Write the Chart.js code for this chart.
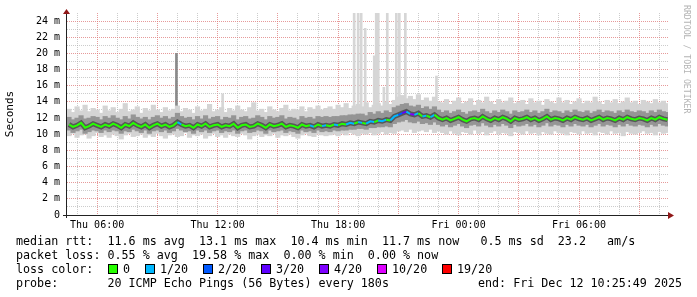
<!DOCTYPE html>
<html>
<head>
<meta charset="utf-8">
<script src="https://cdn.jsdelivr.net/npm/chart.js@4.4.1/dist/chart.umd.min.js"></script>
<style>
  html, body { margin: 0; padding: 0; background: #fff; }
  #wrap { position: relative; width: 697px; height: 297px; overflow: hidden; }
  #grafica { position: absolute; left: 0; top: 0; }
  .leyenda { position: absolute; font-family: 'DejaVu Sans Mono', monospace; font-size: 11.7px; line-height: 14px; white-space: pre; color: #000; }
  .caja { position: absolute; width: 8px; height: 8px; border: 1px solid #000; }
  #marca { position: absolute; left: 682px; top: 5px; writing-mode: vertical-rl; font-family: 'DejaVu Sans Mono', monospace; font-size: 8.2px; color: #b4b4b4; }
</style>
</head>
<body>
<div id="wrap">
  <canvas id="grafica" width="697" height="297"></canvas>
  <div id="marca">RRDTOOL / TOBI OETIKER</div>
  <div class="leyenda" style="left:16px;top:234px">median rtt:  11.6 ms avg  13.1 ms max  10.4 ms min  11.7 ms now   0.5 ms sd  23.2   am/s</div>
  <div class="leyenda" style="left:16px;top:248px">packet loss: 0.55 % avg  19.58 % max  0.00 % min  0.00 % now</div>
  <div class="leyenda" id="colores" style="left:16px;top:262px">loss color:</div>
  <div class="leyenda" style="left:16px;top:276px">probe:       20 ICMP Echo Pings (56 Bytes) every 180s</div>
  <div class="leyenda" style="left:478px;top:276px">end: Fri Dec 12 10:25:49 2025</div>
</div>
<script>
// horas desde el jueves 00:00, un paso cada 12 minutos
var inicio = 4.6;
var paso = 0.2;

// mediana del rtt en ms
var mediana = [
  11.2, 10.9, 11.1, 11.4, 10.8, 11.0, 11.3, 11.1, 10.9, 11.2,
  11.0, 11.3, 11.1, 10.8, 11.2, 11.0, 11.4, 11.1, 10.9, 11.2,
  10.8, 11.1, 11.3, 11.0, 11.2, 10.9, 11.1, 11.5, 11.2, 11.0,
  11.1, 10.8, 11.2, 11.0, 11.3, 10.9, 11.1, 11.2, 10.9, 11.1,
  11.0, 11.3, 10.8, 11.1, 11.2, 10.9, 11.0, 11.3, 11.1, 10.8,
  11.2, 11.0, 11.1, 11.3, 10.9, 11.1, 11.0, 10.8, 11.2, 11.0,
  11.1, 10.9, 11.2, 11.0, 11.1,
  11.0, 11.2, 11.1, 11.3, 11.2, 11.4, 11.3, 11.5, 11.4, 11.3,
  11.6, 11.5, 11.7, 11.6, 11.8, 11.7, 12.2, 12.4,
  12.6, 12.8, 12.5, 12.4, 12.6, 12.2, 12.3, 12.1, 12.4, 12.0,
  11.8, 12.0, 11.7, 11.9, 12.1, 11.8, 11.6, 11.9, 12.0, 11.8,
  12.2, 11.9, 11.7, 12.0, 11.8, 12.1, 11.9, 11.6, 12.0, 11.8,
  11.9, 12.1, 11.8, 12.0, 11.7, 11.9, 12.2, 11.8, 12.0, 11.9,
  11.7, 12.0, 11.8, 12.1, 11.9, 11.8, 12.0, 11.7, 11.9, 12.1,
  11.8, 12.0, 11.9, 11.7, 12.0, 11.8, 12.1, 11.9, 11.8, 12.0,
  11.9, 11.7, 12.0, 11.8, 12.1, 11.9, 11.8
];

// pings perdidos de 20
var perdida = [
  0, 0, 0, 0, 0, 0, 0, 0, 0, 0,
  0, 0, 0, 0, 0, 0, 0, 0, 0, 0,
  0, 0, 0, 0, 0, 0, 0, 1, 0, 0,
  0, 0, 0, 0, 0, 0, 0, 0, 0, 0,
  0, 0, 0, 0, 0, 0, 0, 0, 0, 0,
  0, 0, 0, 0, 0, 0, 0, 0, 0, 0,
  1, 0, 0, 1, 0, 0, 1, 0, 0, 1,
  1, 0, 1, 0, 1, 1, 0, 1, 1, 0,
  1, 1, 2, 3, 1, 4, 1, 0, 1, 0,
  1, 0, 0, 0, 0, 0, 0, 0, 0, 0,
  0, 0, 0, 0, 0, 0, 0, 0, 0, 0,
  0, 0, 0, 0, 0, 0, 0, 0, 0, 0,
  0, 0, 0, 0, 0, 0, 0, 0, 0, 0,
  0, 0, 0, 0, 0, 0, 0, 0, 0, 0,
  0, 0, 0, 0, 0, 0, 0, 0, 0, 0
];

// humo: extremos y banda central de los 20 pings
var humoMax = [
  13.1, 12.7, 13.4, 12.9, 13.6, 12.8, 13.2, 13.0, 12.6, 13.5,
  12.9, 13.3, 12.7, 13.1, 13.8, 12.8, 13.0, 13.4, 12.6, 13.2,
  12.9, 13.6, 13.0, 12.7, 13.3, 12.9, 13.1, 13.5, 12.8, 13.2,
  13.0, 12.6, 13.4, 12.9, 13.1, 13.7, 12.8, 13.0, 13.3, 12.7,
  13.2, 12.9, 13.5, 13.0, 12.8, 13.3, 13.9, 12.9, 13.1, 12.7,
  13.4, 13.0, 12.8, 13.2, 13.6, 12.9, 13.1, 13.0, 13.4, 12.8,
  13.3, 13.1, 13.5, 13.0, 13.2,
  13.4, 13.1, 13.6, 13.3, 13.8, 13.2, 13.5, 13.7, 13.4, 13.9,
  13.3, 13.6, 13.8, 13.5, 14.0, 13.7, 14.2, 14.6,
  14.8, 14.4, 14.7, 14.3, 14.9, 14.2, 14.5, 14.1, 14.6, 14.0,
  13.9, 14.3, 13.7, 14.1, 14.5, 13.8, 14.0, 14.4, 13.6, 14.2,
  13.9, 14.6, 14.0, 13.7, 14.3, 13.9, 14.1, 14.5, 13.8, 14.0,
  14.2, 13.7, 14.4, 13.9, 14.1, 13.6, 14.3, 14.0, 13.8, 14.5,
  13.9, 14.2, 13.7, 14.0, 14.4, 13.8, 14.1, 13.9, 14.6, 14.0,
  13.7, 14.2, 13.9, 14.3, 13.8, 14.0, 14.5, 13.9, 14.1, 13.7,
  14.2, 14.0, 13.8, 14.3, 13.9, 14.1, 13.8
];
var humoAlto = [
  12.1, 11.8, 12.0, 12.3, 11.9, 12.0, 12.2, 12.1, 11.8, 12.2,
  12.0, 12.3, 12.0, 11.8, 12.2, 11.9, 12.4, 12.1, 11.9, 12.1,
  11.8, 12.1, 12.3, 12.0, 12.2, 11.9, 12.1, 12.6, 12.2, 12.0,
  12.1, 11.8, 12.2, 11.9, 12.3, 11.9, 12.1, 12.2, 11.8, 12.1,
  12.0, 12.3, 11.8, 12.1, 12.2, 11.9, 12.0, 12.3, 12.1, 11.8,
  12.2, 12.0, 12.1, 12.3, 11.9, 12.1, 12.0, 11.8, 12.2, 12.0,
  12.1, 11.9, 12.2, 12.1, 12.2,
  12.1, 12.2, 12.2, 12.3, 12.3, 12.4, 12.4, 12.5, 12.5, 12.3,
  12.7, 12.5, 12.8, 12.6, 12.9, 12.7, 13.3, 13.5,
  13.7, 13.8, 13.5, 13.4, 13.6, 13.2, 13.4, 13.1, 13.4, 13.0,
  12.7, 12.9, 12.6, 12.8, 13.0, 12.7, 12.5, 12.8, 12.9, 12.7,
  13.1, 12.8, 12.6, 12.9, 12.7, 13.0, 12.8, 12.5, 12.9, 12.7,
  12.8, 13.0, 12.7, 12.9, 12.6, 12.8, 13.1, 12.7, 12.9, 12.8,
  12.6, 12.9, 12.7, 13.0, 12.8, 12.7, 12.9, 12.6, 12.8, 13.0,
  12.7, 12.9, 12.8, 12.6, 12.9, 12.7, 13.0, 12.8, 12.7, 12.9,
  12.8, 12.6, 12.9, 12.7, 13.0, 12.8, 12.7
];
var humoBajo = [
  10.5, 10.2, 10.4, 10.6, 10.1, 10.3, 10.5, 10.4, 10.2, 10.5,
  10.3, 10.5, 10.4, 10.1, 10.4, 10.3, 10.6, 10.4, 10.2, 10.5,
  10.1, 10.4, 10.5, 10.3, 10.5, 10.2, 10.4, 10.7, 10.5, 10.3,
  10.4, 10.1, 10.5, 10.3, 10.5, 10.2, 10.4, 10.5, 10.2, 10.4,
  10.3, 10.5, 10.1, 10.4, 10.5, 10.2, 10.3, 10.5, 10.4, 10.1,
  10.5, 10.3, 10.4, 10.5, 10.2, 10.4, 10.3, 10.1, 10.5, 10.3,
  10.4, 10.2, 10.5, 10.3, 10.4,
  10.3, 10.5, 10.4, 10.5, 10.5, 10.6, 10.6, 10.7, 10.7, 10.6,
  10.8, 10.8, 10.9, 10.9, 11.0, 10.9, 11.3, 11.5,
  11.6, 11.8, 11.5, 11.4, 11.6, 11.3, 11.4, 11.2, 11.5, 11.2,
  11.0, 11.2, 10.9, 11.1, 11.3, 11.0, 10.8, 11.1, 11.2, 11.0,
  11.4, 11.1, 10.9, 11.2, 11.0, 11.3, 11.1, 10.8, 11.2, 11.0,
  11.1, 11.3, 11.0, 11.2, 10.9, 11.1, 11.4, 11.0, 11.2, 11.1,
  10.9, 11.2, 11.0, 11.3, 11.1, 11.0, 11.2, 10.9, 11.1, 11.3,
  11.0, 11.2, 11.1, 10.9, 11.2, 11.0, 11.3, 11.1, 11.0, 11.2,
  11.1, 10.9, 11.2, 11.0, 11.3, 11.1, 11.0
];
var humoMin = [
  9.8, 10.1, 9.6, 9.9, 10.0, 9.5, 9.8, 10.2, 9.7, 9.9,
  9.6, 10.0, 9.8, 9.4, 9.9, 10.1, 9.7, 9.8, 10.0, 9.6,
  9.9, 9.7, 10.1, 9.8, 9.5, 9.9, 10.0, 9.7, 9.8, 10.2,
  9.6, 9.9, 9.8, 10.0, 9.5, 9.8, 10.1, 9.7, 9.9, 9.6,
  10.0, 9.8, 9.7, 10.1, 9.9, 9.4, 9.8, 10.0, 9.7, 9.9,
  9.8, 10.1, 9.6, 9.9, 9.8, 10.0, 9.7, 9.5, 9.9, 10.1,
  9.8, 9.7, 10.0, 9.9, 9.8,
  9.9, 10.0, 9.8, 10.1, 9.9, 10.2, 10.0, 9.8, 10.1, 10.0,
  10.2, 9.9, 10.1, 10.3, 10.0, 10.2, 10.1, 10.4,
  10.5, 10.3, 10.6, 10.2, 10.4, 10.5, 10.3, 10.6, 10.2, 10.4,
  10.2, 10.0, 10.4, 10.1, 9.9, 10.3, 10.2, 10.0, 10.5, 10.1,
  10.3, 9.9, 10.2, 10.4, 10.0, 10.2, 10.1, 9.8, 10.3, 10.2,
  10.0, 10.4, 10.1, 10.2, 9.9, 10.3, 10.1, 10.0, 10.4, 10.2,
  10.1, 9.9, 10.3, 10.2, 10.0, 10.4, 10.1, 10.2, 9.9, 10.3,
  10.2, 10.0, 10.4, 10.1, 10.2, 9.8, 10.3, 10.1, 10.0, 10.2,
  10.4, 10.1, 10.2, 9.9, 10.3, 10.1, 10.2
];

// picos sueltos de algun ping lento
var picosHora = [9.95, 12.25, 18.8, 19.0, 19.15, 19.35, 19.8, 19.9, 20.0, 20.28, 20.45, 20.9, 21.05, 21.35, 22.9];
var picosMax  = [20.0, 15.0, 25, 25, 25, 23.1, 19.7, 25, 25, 15.8, 25, 25, 25, 25, 17.2];

var nivelesPerdida = [0, 1, 2, 3, 4, 10, 19];
var etiquetasPerdida = ['0', '1/20', '2/20', '3/20', '4/20', '10/20', '19/20'];
var coloresPerdida = ['#26ff00', '#00b8ff', '#0059ff', '#5e00ff', '#7e00ff', '#dd00ff', '#ff0000'];

var horasX = [6, 12, 18, 24, 30];
var etiquetasX = ['Thu 06:00', 'Thu 12:00', 'Thu 18:00', 'Fri 00:00', 'Fri 06:00'];
var valoresY = [0, 2, 4, 6, 8, 10, 12, 14, 16, 18, 20, 22, 24];
var etiquetasY = ['0', '2 m', '4 m', '6 m', '8 m', '10 m', '12 m', '14 m', '16 m', '18 m', '20 m', '22 m', '24 m'];

var horaFin = 34.43;

function colorPerdida(p) {
  var c = coloresPerdida[0];
  for (var i = 0; i < nivelesPerdida.length; i++) {
    if (p >= nivelesPerdida[i]) c = coloresPerdida[i];
  }
  return c;
}

// cajitas de la leyenda de colores
var filaColores = document.querySelector('#colores');
var xCaja = 92;
for (var k = 0; k < coloresPerdida.length; k++) {
  var caja = document.createElement('div');
  caja.className = 'caja';
  caja.style.left = xCaja + 'px';
  caja.style.top = '2px';
  caja.style.background = coloresPerdida[k];
  filaColores.appendChild(caja);
  var txt = document.createElement('div');
  txt.className = 'leyenda';
  txt.style.left = (xCaja + 15) + 'px';
  txt.style.top = '0px';
  txt.textContent = etiquetasPerdida[k];
  filaColores.appendChild(txt);
  xCaja += 15 + etiquetasPerdida[k].length * 7 + 15;
}

var horas = mediana.map(function (v, i) { return inicio + i * paso; });

function pares(a, b) {
  return horas.map(function (h, i) { return { x: h, y: [a[i], b[i]] }; });
}

var lineaMediana = horas.map(function (h, i) { return { x: h, y: mediana[i] }; });
var picos = picosHora.map(function (h, i) { return { x: h, y: [12, picosMax[i]] }; });

// ejes con flechas como en rrdtool
var ejes = {
  id: 'ejes',
  afterDraw: function (chart) {
    var c = chart.ctx, a = chart.chartArea;
    c.save();
    c.strokeStyle = '#222';
    c.lineWidth = 1;
    c.beginPath();
    c.moveTo(a.left - 4, a.bottom + 0.5);
    c.lineTo(a.right + 1, a.bottom + 0.5);
    c.moveTo(a.left - 0.5, a.bottom + 3);
    c.lineTo(a.left - 0.5, a.top - 1);
    c.stroke();
    c.fillStyle = '#901818';
    c.beginPath();
    c.moveTo(a.right + 6, a.bottom + 0.5);
    c.lineTo(a.right, a.bottom - 3);
    c.lineTo(a.right, a.bottom + 4);
    c.closePath();
    c.fill();
    c.beginPath();
    c.moveTo(a.left - 0.5, a.top - 4);
    c.lineTo(a.left - 4, a.top + 1);
    c.lineTo(a.left + 3, a.top + 1);
    c.closePath();
    c.fill();
    c.restore();
  }
};

var grafica = new Chart(document.querySelector('#grafica'), {
  type: 'bar',
  data: {
    datasets: [
      {
        type: 'line',
        label: 'median',
        data: lineaMediana,
        borderWidth: 2,
        pointRadius: 0,
        tension: 0,
        borderColor: '#26ff00',
        segment: {
          borderColor: function (ctx) { return colorPerdida(perdida[ctx.p0DataIndex]); }
        },
        order: 0
      },
      {
        type: 'line',
        label: 'nucleo',
        data: lineaMediana,
        borderWidth: 5,
        pointRadius: 0,
        tension: 0,
        borderColor: 'rgba(25,25,25,0.5)',
        order: 1
      },
      {
        label: 'humo medio',
        data: pares(humoBajo, humoAlto),
        backgroundColor: '#959595',
        barThickness: 4.5,
        grouped: false,
        order: 2
      },
      {
        label: 'humo',
        data: pares(humoMin, humoMax),
        backgroundColor: '#d4d4d4',
        barThickness: 4.5,
        grouped: false,
        order: 3
      },
      {
        label: 'picos',
        data: picos,
        backgroundColor: picosHora.map(function (h) { return h < 11 ? '#8a8a8a' : '#d6d6d6'; }),
        barThickness: 2,
        grouped: false,
        order: 4
      }
    ]
  },
  options: {
    responsive: false,
    animation: false,
    devicePixelRatio: 1,
    layout: { padding: { top: 12, right: 29, left: 0, bottom: 62 } },
    plugins: {
      legend: { display: false },
      tooltip: { enabled: false }
    },
    scales: {
      x: {
        type: 'linear',
        min: 4.5,
        max: horaFin,
        offset: false,
        z: 1,
        afterFit: function (s) { s.height = 20; },
        border: { display: false, dash: [1, 1] },
        grid: {
          offset: false,
          drawTicks: false,
          lineWidth: 1,
          color: function (ctx) {
            if (!ctx.tick) return 'rgba(0,0,0,0)';
            return ctx.tick.value % 3 === 0 ? 'rgba(222,120,120,0.75)' : 'rgba(170,170,170,0.6)';
          }
        },
        ticks: {
          stepSize: 1,
          includeBounds: false,
          autoSkip: false,
          maxRotation: 0,
          padding: 4,
          color: '#000',
          font: { family: 'DejaVu Sans Mono', size: 10 },
          callback: function (v) {
            var i = horasX.indexOf(v);
            return i >= 0 ? etiquetasX[i] : '';
          }
        }
      },
      y: {
        min: 0,
        max: 25,
        z: 1,
        afterFit: function (s) { s.width = 67; },
        border: { display: false, dash: [1, 1] },
        grid: {
          drawTicks: false,
          lineWidth: 1,
          color: function (ctx) {
            if (!ctx.tick) return 'rgba(0,0,0,0)';
            var v = ctx.tick.value;
            if (v === 0 || v === 25) return 'rgba(0,0,0,0)';
            return v % 2 === 0 ? 'rgba(222,120,120,0.75)' : 'rgba(170,170,170,0.6)';
          }
        },
        ticks: {
          stepSize: 1,
          autoSkip: false,
          padding: 7,
          color: '#000',
          font: { family: 'DejaVu Sans Mono', size: 10 },
          callback: function (v) {
            var i = valoresY.indexOf(v);
            return i >= 0 ? etiquetasY[i] : '';
          }
        },
        title: {
          display: true,
          text: 'Seconds',
          color: '#000',
          padding: { top: 4, bottom: 0 },
          font: { family: 'DejaVu Sans Mono', size: 11 }
        }
      }
    }
  },
  plugins: [ejes]
});
</script>
</body>
</html>
